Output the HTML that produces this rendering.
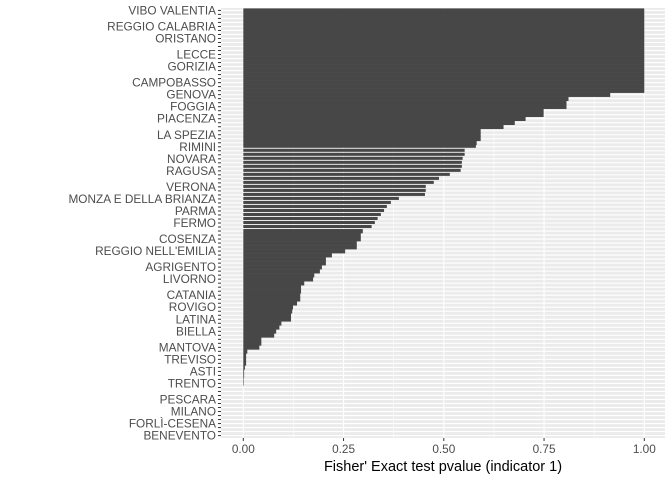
<!DOCTYPE html>
<html><head><meta charset="utf-8"><style>
html,body{margin:0;padding:0;background:#fff;}
svg{display:block;font-family:"Liberation Sans",sans-serif;}
</style></head><body>
<svg id="chart" width="672" height="480">
<rect x="221" y="8" width="444" height="430" fill="#EBEBEB"/>
<g id="grid"></g><g id="bars"></g><g id="yaxis"></g><g id="xaxis"></g>
<text x="443" y="471" text-anchor="middle" font-size="14.5" fill="#000">Fisher' Exact test pvalue (indicator 1)</text>
</svg>
<script>
const values = [1,1,1,1,1,1,1,1,1,1,1,1,1,1,1,1,1,1,1,1,1,
0.915,0.811,0.806,0.806,0.749,0.749,0.704,0.677,0.649,0.592,0.592,0.592,0.582,
0.580,0.552,0.552,0.547,0.545,0.545,0.542,0.515,0.488,0.475,0.455,0.455,0.453,
0.388,0.368,0.358,0.351,0.343,0.335,0.328,0.320,
0.298,0.293,0.293,0.283,0.283,0.254,0.221,0.206,0.206,0.196,0.191,0.177,0.174,0.152,
0.144,0.144,0.142,0.142,0.134,0.124,0.122,0.119,0.119,0.095,0.090,0.082,0.077,
0.045,0.045,0.040,0.010,0.007,0.007,0.007,0.004,0.002,0.002,0.001,0.001,
0,0,0,0,0,0,0,0,0,0,0,0,0];
const labelIndex = [0,4,7,11,14,18,21,24,27,31,34,37,40,44,47,50,53,57,60,64,67,71,74,77,80,84,87,90,93,97,100,103,106];
const labelText = ["VIBO VALENTIA","REGGIO CALABRIA","ORISTANO","LECCE","GORIZIA","CAMPOBASSO","GENOVA","FOGGIA","PIACENZA","LA SPEZIA","RIMINI","NOVARA","RAGUSA","VERONA","MONZA E DELLA BRIANZA","PARMA","FERMO","COSENZA","REGGIO NELL'EMILIA","AGRIGENTO","LIVORNO","CATANIA","ROVIGO","LATINA","BIELLA","MANTOVA","TREVISO","ASTI","TRENTO","PESCARA","MILANO","FORLÌ-CESENA","BENEVENTO"];
const xTicks = [0,0.25,0.5,0.75,1];
const xTickLabels = ["0.00","0.25","0.50","0.75","1.00"];

const NS="http://www.w3.org/2000/svg";
const nCat = values.length;
const pTop=8, pBottom=438, pLeft=221, pRight=665;
const step=(pBottom-pTop)/(nCat+0.2);
const yc=i=>pTop+(i+0.6)*step;
const x0=243.3, x1=644.3;
const xs=v=>x0+v*(x1-x0);
function mk(tag,attrs,parent){const e=document.createElementNS(NS,tag);for(const k in attrs)e.setAttribute(k,attrs[k]);parent.appendChild(e);return e;}
const grid=document.getElementById('grid'),bars=document.getElementById('bars'),ya=document.getElementById('yaxis'),xa=document.getElementById('xaxis');
for(let k=0;k<4;k++){const v=0.125+0.25*k;const l=mk('line',{x1:xs(v),x2:xs(v),y1:pTop,y2:pBottom,stroke:'#fff','stroke-width':0.55},grid);

}
xTicks.forEach((v,k)=>{const l=mk('line',{x1:xs(v),x2:xs(v),y1:pTop,y2:pBottom,stroke:'#fff','stroke-width':1.1},grid);


const t=mk('line',{x1:xs(v),x2:xs(v),y1:pBottom,y2:pBottom+3,stroke:'#333','stroke-width':1},xa);


const tx=mk('text',{x:xs(v),y:pBottom+15,'text-anchor':'middle','font-size':'11.8',fill:'#4D4D4D'},xa);tx.textContent=xTickLabels[k];

});
for(let i=0;i<nCat;i++){
const g=mk('line',{x1:pLeft,x2:pRight,y1:yc(i),y2:yc(i),stroke:'#fff','stroke-width':1.1},grid);


const t=mk('line',{x1:pLeft-3,x2:pLeft,y1:yc(i),y2:yc(i),stroke:'#333','stroke-width':1},ya);


const gap=(i>=34&&i<=54)?1:0;
if(values[i]>0){const b=mk('rect',{x:x0,y:yc(i)-step/2,width:Math.max(xs(values[i])-x0,0.5),height:step-gap+(gap?0:0.3),fill:'#474747'},bars);

}
}
labelIndex.forEach((idx,k)=>{const tx=mk('text',{x:pLeft-5,y:yc(idx)+4,'text-anchor':'end','font-size':'11.8',fill:'#4D4D4D'},ya);tx.textContent=labelText[k];

});
</script>
</body></html>
